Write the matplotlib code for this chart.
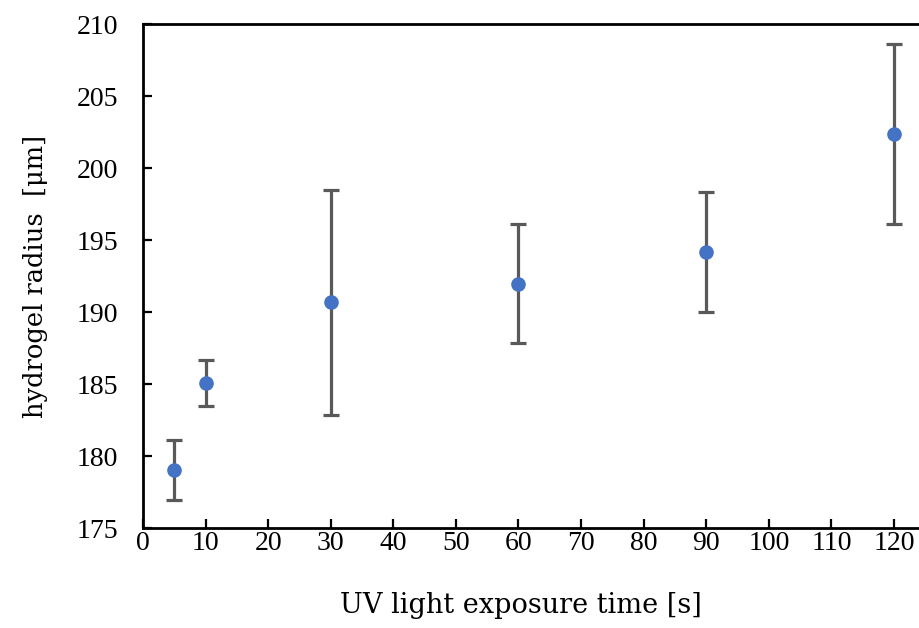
#!/usr/bin/env python3

import numpy as np
import matplotlib
matplotlib.use('Agg')
import matplotlib.pyplot as plt

# UV exposure time [s] and measured hydrogel radius [um] with std dev
exposure_time = [5, 10, 30, 60, 90, 120]
radius = [179.03, 185.1, 190.67, 191.97, 194.15, 202.37]
radius_err = [2.1, 1.6, 7.8, 4.15, 4.15, 6.25]

x_ticks = list(range(0, 121, 10))
y_ticks = list(range(175, 211, 5))

plt.rcParams['font.family'] = ['DejaVu Serif']
tick_font = dict(family=['Liberation Serif', 'DejaVu Serif'], size=20)

fig = plt.figure(figsize=(9.19, 6.28), dpi=100)
ax = fig.add_axes([143/919, 1 - 528/628, 1 - 143/919, (528 - 24)/628])

ax.errorbar(exposure_time, radius, yerr=radius_err, fmt='o', ms=9.5,
            color='#4472C4', ecolor='#595959', elinewidth=2.3,
            capsize=5.5, capthick=2.3, zorder=3)

ax.set_xlim(0, 124)
ax.set_ylim(175, 210)
ax.set_xticks(x_ticks)
ax.set_yticks(y_ticks)
ax.set_xticklabels([str(t) for t in x_ticks], fontdict=tick_font)
ax.set_yticklabels([str(t) for t in y_ticks], fontdict=tick_font)

ax.spines['right'].set_visible(False)
for side in ['left', 'bottom', 'top']:
    ax.spines[side].set_linewidth(2)
    ax.spines[side].set_color('black')
ax.tick_params(direction='in', length=6.5, width=1.6, pad=18)
ax.tick_params(axis='x', pad=2)

ax.set_xlabel('UV light exposure time [s]', fontsize=19.5, va='center')
ax.set_ylabel('hydrogel radius  [μm]', fontsize=18.5, va='center')
ax.xaxis.set_label_coords(0.487, -0.153)
ax.yaxis.set_label_coords(-0.139, 0.5)

fig.savefig('out.png', dpi=100)
